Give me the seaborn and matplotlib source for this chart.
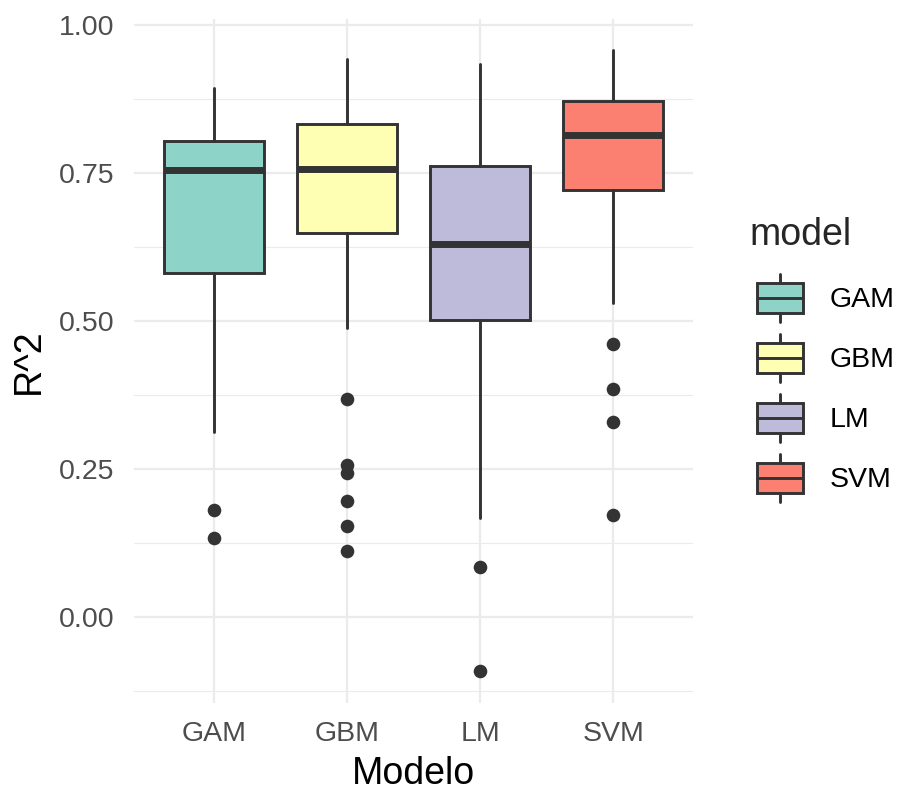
import matplotlib
matplotlib.use("Agg")
import matplotlib.pyplot as plt
from matplotlib.ticker import FormatStrFormatter, FixedLocator
from matplotlib.legend_handler import HandlerBase
from matplotlib.patches import Patch, Rectangle
from matplotlib.lines import Line2D
import seaborn as sns
import pandas as pd

# Box summaries per model (R^2 across resamples)
models = ["GAM", "GBM", "LM", "SVM"]
whisker_low = [0.313, 0.488, 0.167, 0.530]
q1 = [0.581, 0.649, 0.502, 0.722]
median = [0.755, 0.758, 0.631, 0.815]
q3 = [0.804, 0.834, 0.762, 0.872]
whisker_high = [0.894, 0.943, 0.934, 0.958]

# Points beyond the whiskers
gam_outliers = [0.181, 0.133]
gbm_outliers = [0.368, 0.257, 0.244, 0.196, 0.154, 0.111]
lm_outliers = [0.085, -0.092]
svm_outliers = [0.461, 0.386, 0.329, 0.173]

y_ticks = [0.00, 0.25, 0.50, 0.75, 1.00]

EDGE = "#333333"
GRID = "#EBEBEB"
TEXT_GREY = "#4D4D4D"
LW = 2.1

sns.set_theme(style="white")
plt.rcParams["font.family"] = ["Liberation Sans", "DejaVu Sans"]

palette = sns.color_palette("Set3", len(models))

W, H = 901, 792
fig = plt.figure(figsize=(W / 100, H / 100), dpi=100)
left, right, top, bottom = 133.9, 693.0, 19.2, 702.5
ax = fig.add_axes([left / W, 1 - bottom / H, (right - left) / W, (bottom - top) / H])

# Outlier points via seaborn's categorical scatter
out_df = pd.DataFrame({
    "model": (["GAM"] * len(gam_outliers) + ["GBM"] * len(gbm_outliers)
              + ["LM"] * len(lm_outliers) + ["SVM"] * len(svm_outliers)),
    "r2": gam_outliers + gbm_outliers + lm_outliers + svm_outliers,
})
sns.stripplot(data=out_df, x="model", y="r2", order=models, jitter=False,
              color=EDGE, size=9.8, linewidth=0, ax=ax, zorder=4)

# Boxes from the summary statistics
stats = [dict(med=m, q1=a, q3=b, whislo=lo, whishi=hi, fliers=[], label=n)
         for n, lo, a, m, b, hi in zip(models, whisker_low, q1, median, q3, whisker_high)]
bp = ax.bxp(stats, positions=range(len(models)), widths=0.75, patch_artist=True,
            showfliers=False, showcaps=False, manage_ticks=False,
            boxprops=dict(edgecolor=EDGE, linewidth=LW),
            whiskerprops=dict(color=EDGE, linewidth=LW),
            medianprops=dict(color=EDGE, linewidth=5.0, solid_capstyle="butt"),
            zorder=3)
for patch, col in zip(bp["boxes"], palette):
    patch.set_facecolor(col)

ax.set_xlim(-0.6, len(models) - 0.4)
ax.set_ylim(-0.1445, 1.0105)
ax.set_xticks(range(len(models)))
ax.set_xticklabels(models)
ax.yaxis.set_major_locator(FixedLocator(y_ticks))
ax.yaxis.set_minor_locator(FixedLocator([-0.125, 0.125, 0.375, 0.625, 0.875]))
ax.yaxis.set_major_formatter(FormatStrFormatter("%.2f"))

ax.set_axisbelow(True)
ax.grid(False)
ax.yaxis.grid(True, which="major", color=GRID, linewidth=1.6)
ax.yaxis.grid(True, which="minor", color=GRID, linewidth=0.8)
ax.xaxis.grid(True, which="major", color=GRID, linewidth=1.6)
for s in ax.spines.values():
    s.set_visible(False)

ax.tick_params(axis="both", which="both", length=0, labelsize=20.5, labelcolor=TEXT_GREY)
ax.tick_params(axis="y", pad=14)
ax.tick_params(axis="x", pad=13)

ax.set_xlabel("Modelo", fontsize=27, color="black")
ax.xaxis.label.set_va("center")
ax.xaxis.set_label_coords(0.5, (bottom - 774) / (bottom - top))
ax.set_ylabel("R^2", fontsize=27, color="black")
ax.yaxis.label.set_va("center")
ax.yaxis.set_label_coords((29 - left) / (right - left), 0.5)


class BoxKeyHandler(HandlerBase):
    def create_artists(self, legend, orig_handle, xdescent, ydescent,
                       width, height, fontsize, trans):
        x0, y0 = -xdescent, -ydescent
        fc = orig_handle.get_facecolor()
        whisk = Line2D([x0 + width / 2] * 2, [y0 + 0.1 * height, y0 + 0.9 * height],
                       color=EDGE, linewidth=LW, transform=trans)
        box = Rectangle((x0 + 0.125 * width, y0 + 0.25 * height), 0.75 * width, 0.5 * height,
                        facecolor=fc, edgecolor=EDGE, linewidth=LW, transform=trans)
        med = Line2D([x0 + 0.125 * width, x0 + 0.875 * width], [y0 + 0.5 * height] * 2,
                     color=EDGE, linewidth=LW, solid_capstyle="butt", transform=trans)
        return [whisk, box, med]


handles = [Patch(facecolor=c, edgecolor=EDGE) for c in palette]
fs = 20.5
px_per_fs = fs * 100 / 72
key_h = 60 / px_per_fs
# matplotlib trims 0.35*fs*(hh-0.7) off the key box; solve for a 60 px key
handle_h = (key_h - 0.245) / 0.65
leg = fig.legend(handles, models, title="model", loc="upper left",
                 bbox_to_anchor=(749 / W, 1 - 217 / H), frameon=False,
                 fontsize=fs, title_fontsize=27, alignment="left",
                 handler_map={Patch: BoxKeyHandler()},
                 handlelength=61.7 / px_per_fs, handleheight=handle_h,
                 handletextpad=19 / px_per_fs, labelspacing=0.0, borderpad=0,
                 borderaxespad=0)
# gap between the legend title and the first key (points)
leg._legend_box.sep = 11
for t in leg.get_texts():
    t.set_color("black")

fig.savefig("out.png", dpi=100, facecolor="white")
